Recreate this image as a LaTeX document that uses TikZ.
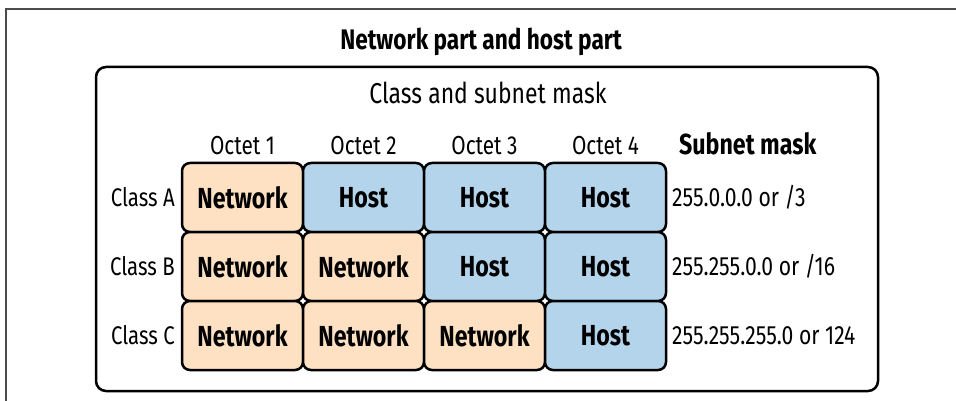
\documentclass[tikz,border=0pt]{standalone}
\usepackage{fontspec}
\setmainfont{Fira Sans}[FakeStretch=0.8]
\usetikzlibrary{positioning}

\definecolor{netfill}{HTML}{FDE1C2}
\definecolor{hostfill}{HTML}{B3D4EA}
\tikzset{
  cell/.style={draw, line width=2.5pt, rounded corners=8pt, minimum width=121pt, minimum height=69pt,
    inner sep=0pt, outer sep=0pt, font=\fontsize{29}{34}\selectfont\bfseries},
  netcell/.style={cell, fill=netfill},
  hostcell/.style={cell, fill=hostfill},
  rowlabel/.style={inner sep=0pt, font=\fontsize{25.5}{30}\selectfont},
  colhead/.style={inner sep=0pt, font=\fontsize{26}{30}\selectfont},
  masktext/.style={inner sep=0pt, anchor=west, font=\fontsize{26.4}{30}\selectfont},
}

\begin{document}
\begin{tikzpicture}[node distance=0pt]
\useasboundingbox (0pt,0pt) rectangle (956pt,-401pt);
\draw[line width=2pt, black!70] (956pt,-9.5pt) -| (6pt,-401pt);

\node (title) [font=\fontsize{28.3}{32}\selectfont\bfseries] at (481pt,-42pt) {Network part and host part};
\node (frame) [draw, line width=2.5pt, rounded corners=10pt, minimum width=782pt, minimum height=324pt, inner sep=0pt] at (487pt,-229pt) {};
\node (sub) [font=\fontsize{28.7}{32}\selectfont] at (488pt,-93pt) {Class and subnet mask};

% class A
\node (a1) [netcell] at (242.5pt,-197.5pt) {Network};
\node (a2) [hostcell, right=of a1] {Host};
\node (a3) [hostcell, right=of a2] {Host};
\node (a4) [hostcell, right=of a3] {Host};
% class B
\node (b1) [netcell, below=of a1] {Network};
\node (b2) [netcell, right=of b1] {Network};
\node (b3) [hostcell, right=of b2] {Host};
\node (b4) [hostcell, right=of b3] {Host};
% class C
\node (c1) [netcell, below=of b1] {Network};
\node (c2) [netcell, right=of c1] {Network};
\node (c3) [netcell, right=of c2] {Network};
\node (c4) [hostcell, right=of c3] {Host};

\node (la) [rowlabel, left=7pt of a1] {Class A};
\node (lb) [rowlabel, left=7pt of b1] {Class B};
\node (lc) [rowlabel, left=7pt of c1] {Class C};

\node (h1) [colhead, above=8pt of a1] {Octet 1};
\node (h2) [colhead, above=8pt of a2] {Octet 2};
\node (h3) [colhead, above=8pt of a3] {Octet 3};
\node (h4) [colhead, above=8pt of a4] {Octet 4};

\node (ma) [masktext, right=6pt of a4] {255.0.0.0 or /3};
\node (mb) [masktext, right=6pt of b4] {255.255.0.0 or /16};
\node (mc) [masktext, right=6pt of c4] {255.255.255.0 or 124};
\node (hm) [inner sep=0pt, anchor=base west, font=\fontsize{29}{34}\selectfont\bfseries] at ([xshift=7pt]ma.west |- h4.base) {Subnet mask};
\end{tikzpicture}
\end{document}
